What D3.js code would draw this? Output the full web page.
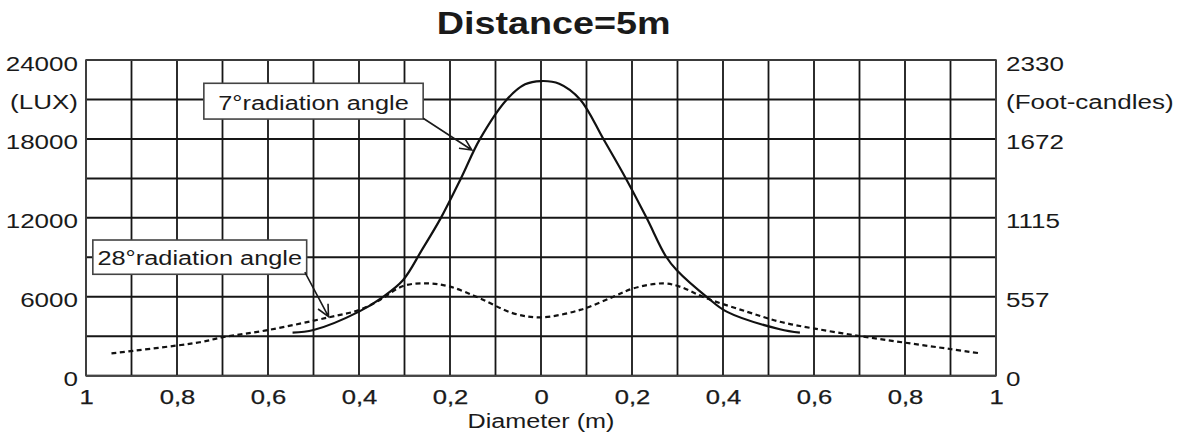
<!DOCTYPE html>
<html>
<head>
<meta charset="utf-8">
<script src="https://cdn.jsdelivr.net/npm/d3@7"></script>
<style>
  body { margin: 0; background: #fff; }
  text { font-family: 'Liberation Sans', Arial, sans-serif; fill: #1a1a1a; }
</style>
</head>
<body>
<div id="graf"></div>
<script>
// datos
const titulo = 'Distance=5m'
const ejeXTitulo = 'Diameter (m)'
const xTicks = [-1, -0.8, -0.6, -0.4, -0.2, 0, 0.2, 0.4, 0.6, 0.8, 1]
const xTickLabels = ['1', '0,8', '0,6', '0,4', '0,2', '0', '0,2', '0,4', '0,6', '0,8', '1']
const yTicks = [0, 6000, 12000, 18000, 24000]
const luxLabels = ['0', '6000', '12000', '18000', '24000']
const fcLabels = ['0', '557', '1115', '1672', '2330']
const unidadLux = '(LUX)'
const unidadFc = '(Foot-candles)'

// 7° (linea continua)
const angostoX = [-0.546, -0.50, -0.40, -0.347, -0.303, -0.262, -0.22, -0.176, -0.134, -0.075, -0.035, 0, 0.04, 0.086, 0.137, 0.188, 0.232, 0.274, 0.298, 0.368, 0.408, 0.525, 0.569]
const angostoLux = [3270, 3470, 4870, 6000, 7280, 9550, 12000, 15000, 18000, 21000, 22150, 22400, 22200, 21000, 18000, 14900, 12000, 9100, 8030, 5880, 4870, 3530, 3270]

// 28° (linea punteada)
const anchoX = [-0.944, -0.75, -0.7, -0.6, -0.466, -0.4, -0.354, -0.303, -0.248, -0.2, -0.134, -0.061, 0, 0.086, 0.159, 0.203, 0.269, 0.305, 0.364, 0.452, 0.525, 0.598, 0.70, 0.8, 0.899, 0.965]
const anchoLux = [1700, 2540, 2920, 3470, 4440, 4990, 5755, 6820, 7020, 6770, 5880, 4740, 4440, 5000, 6000, 6640, 7020, 6770, 5880, 4870, 4100, 3600, 3020, 2510, 2030, 1700]

// anotaciones (en coordenadas de datos)
const notas = [
  { texto: '7°radiation angle', x0: -0.741, x1: -0.259, y0: 22230, y1: 19510, desde: [-0.259, 19570], hasta: [-0.152, 17160] },
  { texto: '28°radiation angle', x0: -0.985, x1: -0.515, y0: 10315, y1: 7710, desde: [-0.519, 7880], hasta: [-0.467, 4485] }
]

const ancho_total = 1178
const alto_total = 436
const margins = { top: 60, left: 86, right: 182, bottom: 60.3 }
const ancho = ancho_total - margins.left - margins.right
const alto = alto_total - margins.top - margins.bottom

const svg = d3.select('#graf').append('svg')
  .attr('width', ancho_total)
  .attr('height', alto_total)

const g = svg.append('g')
  .attr('transform', `translate(${margins.left}, ${margins.top})`)

const x = d3.scaleLinear().domain([-1, 1]).range([0, ancho])
const y = d3.scaleLinear().domain([0, 24000]).range([alto, 0])

// estira el texto en horizontal (el original esta ensanchado)
function estirar(sel, k) {
  sel.each(function () {
    const w = this.getComputedTextLength()
    d3.select(this).attr('textLength', w * k).attr('lengthAdjust', 'spacingAndGlyphs')
  })
}

// rejilla
g.append('g')
  .selectAll('line')
  .data(d3.range(0, 24001, 3000))
  .join('line')
  .attr('x1', 0).attr('x2', ancho)
  .attr('y1', d => y(d)).attr('y2', d => y(d))
  .attr('stroke', '#161616').attr('stroke-width', 2)

g.append('g')
  .selectAll('line')
  .data(d3.range(-10, 11).map(d => d / 10))
  .join('line')
  .attr('y1', 0).attr('y2', alto)
  .attr('x1', d => x(d)).attr('x2', d => x(d))
  .attr('stroke', '#161616').attr('stroke-width', 1.8)

g.append('rect')
  .attr('x', 0).attr('y', 0)
  .attr('width', ancho).attr('height', alto)
  .attr('fill', 'none').attr('stroke', '#444').attr('stroke-width', 1.6)

// ejes
const ejeIzq = g.append('g')
  .call(d3.axisLeft(y).tickValues(yTicks).tickSize(0).tickPadding(8).tickFormat((d, i) => luxLabels[i]))
ejeIzq.select('.domain').remove()
ejeIzq.append('g').attr('class', 'tick').attr('transform', `translate(0,${y(21000)})`)
  .append('text').attr('x', -8).attr('dy', '0.32em').attr('text-anchor', 'end').text(unidadLux)

const ejeDer = g.append('g')
  .attr('transform', `translate(${ancho},0)`)
  .call(d3.axisRight(y).tickValues(yTicks).tickSize(0).tickPadding(10).tickFormat((d, i) => fcLabels[i]))
ejeDer.select('.domain').remove()
ejeDer.append('g').attr('class', 'tick').attr('transform', `translate(0,${y(21000)})`)
  .append('text').attr('x', 10).attr('dy', '0.32em').attr('text-anchor', 'start').text(unidadFc)

g.selectAll('.tick text')
  .attr('font-size', 20)
  .attr('font-family', null)
  .attr('fill', '#1a1a1a')
  .attr('dy', '0.5em')
estirar(ejeIzq.selectAll('text'), 1.3)
estirar(ejeDer.selectAll('text'), 1.3)

const ejeAbajo = g.append('g')
  .attr('transform', `translate(0,${alto})`)
  .call(d3.axisBottom(x).tickValues(xTicks).tickSize(0).tickPadding(14).tickFormat((d, i) => xTickLabels[i]))
ejeAbajo.select('.domain').remove()
ejeAbajo.selectAll('text')
  .attr('font-size', 20)
  .attr('font-family', null)
  .attr('fill', '#1a1a1a')
  .attr('stroke', '#1a1a1a').attr('stroke-width', 0.25)
estirar(ejeAbajo.selectAll('text'), 1.28)

// titulos
const t = svg.append('text')
  .attr('x', 553.7).attr('y', 34.3)
  .attr('text-anchor', 'middle')
  .attr('font-size', 32).attr('font-weight', 'bold')
  .text(titulo)
estirar(t, 1.18)

const tx = svg.append('text')
  .attr('x', margins.left + x(0)).attr('y', 428)
  .attr('text-anchor', 'middle')
  .attr('font-size', 20)
  .text(ejeXTitulo)
estirar(tx, 1.26)

// curvas
const linea = d3.line()
  .x(d => x(d[0]))
  .y(d => y(d[1]))
  .curve(d3.curveCatmullRom.alpha(0.5))

g.append('path')
  .datum(anchoX.map((d, i) => [d, anchoLux[i]]))
  .attr('d', linea)
  .attr('fill', 'none').attr('stroke', '#111').attr('stroke-width', 2.2)
  .attr('stroke-dasharray', '5,3.5')

g.append('path')
  .datum(angostoX.map((d, i) => [d, angostoLux[i]]))
  .attr('d', linea)
  .attr('fill', 'none').attr('stroke', '#111').attr('stroke-width', 2.2)

// anotaciones
notas.forEach(n => {
  const bx = x(n.x0), by = y(n.y0), bw = x(n.x1) - x(n.x0), bh = y(n.y1) - y(n.y0)
  g.append('rect')
    .attr('x', bx).attr('y', by).attr('width', bw).attr('height', bh)
    .attr('fill', '#fff').attr('stroke', '#444').attr('stroke-width', 1.6)
  const tt = g.append('text')
    .attr('x', bx + bw / 2).attr('y', by + bh - 9.5)
    .attr('text-anchor', 'middle')
    .attr('font-size', 19.5)
    .text(n.texto)
  estirar(tt, 1.3)

  const x1 = x(n.desde[0]), y1 = y(n.desde[1]), x2 = x(n.hasta[0]), y2 = y(n.hasta[1])
  const ang = Math.atan2(y2 - y1, x2 - x1)
  const L = 13, a = 0.45
  g.append('path')
    .attr('d', `M${x1},${y1}L${x2},${y2}` +
      `M${x2 - L * Math.cos(ang - a)},${y2 - L * Math.sin(ang - a)}L${x2},${y2}` +
      `L${x2 - L * Math.cos(ang + a)},${y2 - L * Math.sin(ang + a)}`)
    .attr('fill', 'none').attr('stroke', '#1a1a1a').attr('stroke-width', 1.6)
})
</script>
</body>
</html>
